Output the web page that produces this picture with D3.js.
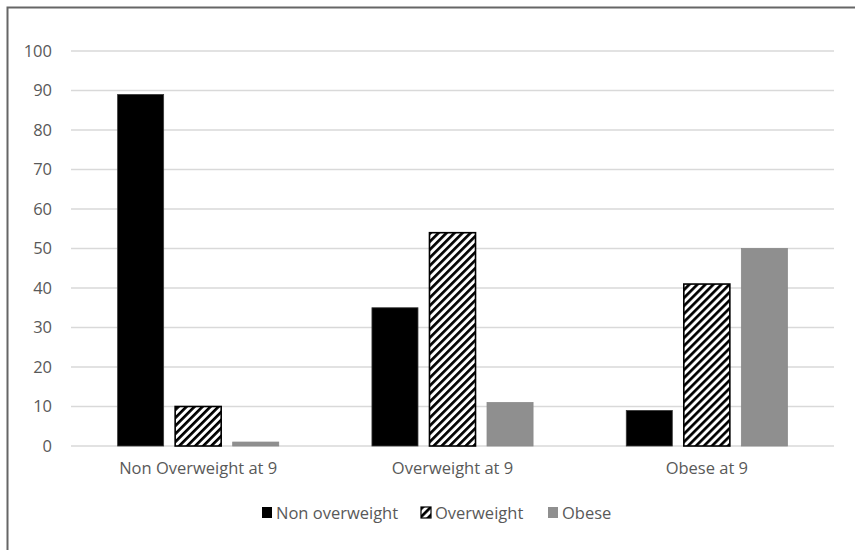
<!DOCTYPE html>
<html><head><meta charset="utf-8">
<script src="https://cdn.jsdelivr.net/npm/d3@7"></script>
<style>body{margin:0;background:#fff}svg{display:block}text{font-family:"Open Sans",Lato,sans-serif;fill:#595959}</style>
</head><body><svg id="c" width="855" height="550"></svg>
<script>
const categories = ["Non Overweight at 9", "Overweight at 9", "Obese at 9"];
const seriesNames = ["Non overweight", "Overweight", "Obese"];
const nonOverweight = [89, 35, 9];
const overweight = [10, 54, 41];
const obese = [1, 11, 50];
const yTicks = [0, 10, 20, 30, 40, 50, 60, 70, 80, 90, 100];
const seriesValues = [nonOverweight, overweight, obese];

const svg = d3.select("#c");
const defs = svg.append("defs");
const pat = defs.append("pattern").attr("id", "hatch").attr("patternUnits", "userSpaceOnUse")
  .attr("width", 5.66).attr("height", 5.66).attr("patternTransform", "rotate(45)");
pat.append("rect").attr("width", 5.66).attr("height", 5.66).attr("fill", "#fff");
pat.append("rect").attr("x", 0).attr("width", 2.7).attr("height", 5.66).attr("fill", "#000");

const fills = ["#000000", "url(#hatch)", "#8f8f8f"];
const strokes = ["#3a3a3a", "#000000", "#8a8a8a"];

// outer border
svg.append("path").attr("d", "M7.5,560 V7.5 H870").attr("fill", "none").attr("stroke", "#666").attr("stroke-width", 2);

const pLeft = 71, pRight = 834, pTop = 51, pBottom = 446;
const y = d3.scaleLinear().domain([0, 100]).range([pBottom, pTop]);
const x0 = d3.scaleBand().domain(categories).range([pLeft, pRight]).paddingInner(0).paddingOuter(0);
const x1 = d3.scaleBand().domain(seriesNames).range([0, x0.bandwidth()]).paddingInner(0.2).paddingOuter(0.81);

// gridlines
svg.append("g").selectAll("line").data(yTicks).join("line")
  .attr("x1", pLeft).attr("x2", pRight).attr("y1", d => y(d)).attr("y2", d => y(d))
  .attr("stroke", "#d9d9d9").attr("stroke-width", 1.5);

// y axis labels
const yAxis = d3.axisLeft(y).tickValues(yTicks).tickSize(0).tickPadding(19);
const gy = svg.append("g").attr("transform", `translate(${pLeft},0)`).call(yAxis);
gy.select(".domain").remove();
gy.selectAll("text").style("font-size", "16.5px").attr("fill", "#595959").style("font-family", "'Open Sans', sans-serif");

// bars
const groups = svg.append("g").selectAll("g").data(categories).join("g")
  .attr("transform", d => `translate(${x0(d)},0)`);
groups.selectAll("rect").data((d, i) => seriesNames.map((s, j) => ({s, j, v: seriesValues[j][i]}))).join("rect")
  .attr("x", d => x1(d.s)).attr("width", x1.bandwidth())
  .attr("y", d => y(d.v)).attr("height", d => y(0) - y(d.v))
  .attr("fill", d => fills[d.j]).attr("stroke", d => strokes[d.j])
  .attr("stroke-width", d => d.j === 1 ? 1.6 : 0.8);

// x axis labels
const xAxis = d3.axisBottom(x0).tickSize(0).tickPadding(16);
const gx = svg.append("g").attr("transform", `translate(0,${pBottom})`).call(xAxis);
gx.select(".domain").remove();
gx.selectAll("text").style("font-size", "16.5px").attr("fill", "#595959").style("font-family", "'Open Sans', sans-serif");

// legend
const legendX = [262, 421, 548];
const lg = svg.append("g").selectAll("g").data(seriesNames).join("g")
  .attr("transform", (d, i) => `translate(${legendX[i]},507)`);
lg.append("rect").attr("width", 10).attr("height", 11)
  .attr("fill", (d, i) => fills[i]).attr("stroke", (d, i) => i === 1 ? "#000" : "none").attr("stroke-width", 1.2);
lg.append("text").attr("x", 14).attr("y", 12).style("font-size", "16.5px").text(d => d);
</script></body></html>
